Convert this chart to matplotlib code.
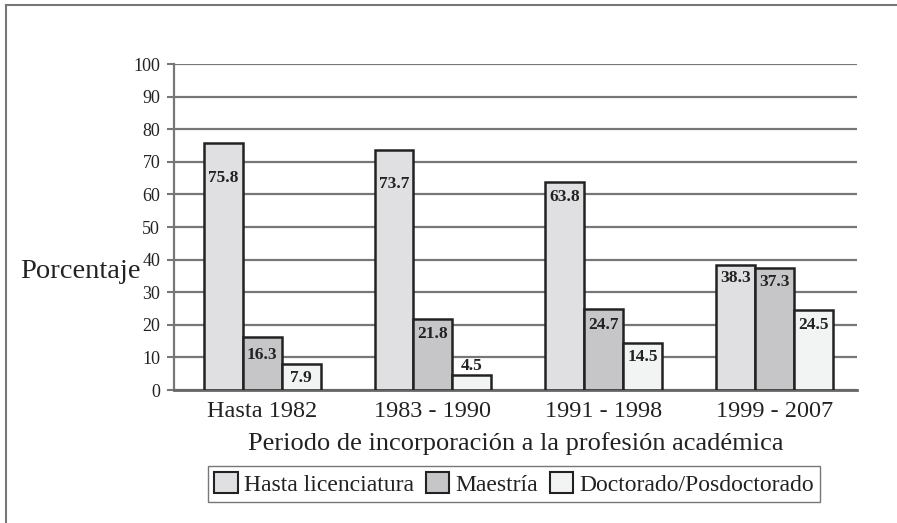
import numpy as np
import matplotlib
matplotlib.use("Agg")
import matplotlib.pyplot as plt
from matplotlib.lines import Line2D
from matplotlib.patches import Patch

periods = ["Hasta 1982", "1983 - 1990", "1991 - 1998", "1999 - 2007"]
series_names = ["Hasta licenciatura", "Maestría", "Doctorado/Posdoctorado"]
licenciatura = [75.8, 73.7, 63.8, 38.3]
maestria = [16.3, 21.8, 24.7, 37.3]
doctorado = [7.9, 4.5, 14.5, 24.5]

# label offsets (points) from bar top, inside unless positive
label_off = [[-25, -25, -11, -9],
             [-13, -11, -11, -10],
             [-10, 7, -10, -11]]

colors = ["#e0e0e2", "#c6c6c9", "#f2f3f3"]
serif = ["Liberation Serif", "DejaVu Serif"]
plt.rcParams['font.family'] = serif

fig = plt.figure(figsize=(8.97, 5.23), dpi=100)
ax = fig.add_axes([0.194, 0.2543, 0.761, 0.6233])

# outer frame (top and left only visible)
fig.add_artist(Line2D([6 / 897, 6 / 897], [0, 1 - 5 / 523], transform=fig.transFigure,
                      color="#777777", lw=1.5))
fig.add_artist(Line2D([6 / 897, 1], [1 - 5 / 523, 1 - 5 / 523], transform=fig.transFigure,
                      color="#777777", lw=1.5))

x = np.arange(len(periods))
w = 0.228
data = [licenciatura, maestria, doctorado]
for k, vals in enumerate(data):
    xs = x + (k - 1) * w
    ax.bar(xs, vals, width=w, color=colors[k], edgecolor="#222222", linewidth=1.8, zorder=3)
    for i, v in enumerate(vals):
        ax.annotate(f"{v}", (xs[i], v), xytext=(0, label_off[k][i]), textcoords="offset points",
                    ha="center", va="center", fontsize=12.5, fontweight="bold", color="#222222",
                    zorder=4)

ax.set_xlim(-0.517, 3.483)
ax.set_ylim(0, 100)
ax.set_yticks(range(0, 101, 10))
ax.grid(axis="y", color="#777777", lw=1.6, zorder=0)
ax.set_xticks(x)
ax.set_xticklabels(periods, fontsize=17.5, color="#222222")
ax.tick_params(axis="x", length=0, pad=8)
ax.tick_params(axis="y", length=5, width=1.5, color="#777777", labelsize=13, labelcolor="#222222", pad=5)
for s in ["top", "right"]:
    ax.spines[s].set_visible(False)
ax.spines["left"].set_color("#777777")
ax.spines["left"].set_linewidth(1.6)
ax.spines["bottom"].set_color("#666666")
ax.spines["bottom"].set_linewidth(2)

ax.set_xlabel("Periodo de incorporación a la profesión académica", fontsize=19, color="#222222", labelpad=7)
fig.text(20 / 897, 1 - 271 / 523, "Porcentaje", fontsize=20.5, color="#222222", va="center", ha="left")

handles = [Patch(facecolor=colors[k], edgecolor="#222222", linewidth=1.5) for k in range(3)]
leg = fig.legend(handles, series_names, loc="center", bbox_to_anchor=(514 / 897, 1 - 484 / 523),
                 ncol=3, fontsize=17, frameon=True, fancybox=False, handlelength=1.0,
                 handleheight=1.0, handletextpad=0.25, columnspacing=0.5, borderpad=0.25)
leg.get_frame().set_edgecolor("#555555")
leg.get_frame().set_linewidth(1.0)
for t in leg.get_texts():
    t.set_color("#222222")

fig.savefig("out.png", dpi=100)
